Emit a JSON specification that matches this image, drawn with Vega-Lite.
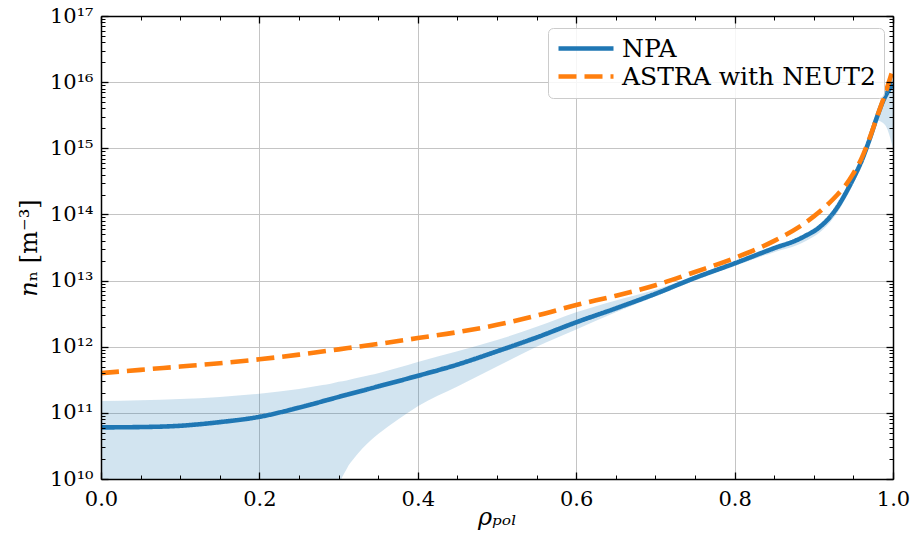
{
  "$schema": "https://vega.github.io/schema/vega-lite/v6.json",
  "width": 792,
  "height": 463,
  "autosize": "none",
  "padding": {"left": 101, "top": 16, "right": 21, "bottom": 66},
  "background": "white",
  "config": {"view": {"stroke": null}},
  "datasets": {
    "lines": [
      {"x": 0, "series": "NPA", "n": 6.03e10},
      {"x": 0.05, "series": "NPA", "n": 6.10e10},
      {"x": 0.1, "series": "NPA", "n": 6.38e10},
      {"x": 0.15, "series": "NPA", "n": 7.24e10},
      {"x": 0.2, "series": "NPA", "n": 8.71e10},
      {"x": 0.25, "series": "NPA", "n": 1.20e11},
      {"x": 0.3, "series": "NPA", "n": 1.74e11},
      {"x": 0.35, "series": "NPA", "n": 2.51e11},
      {"x": 0.4, "series": "NPA", "n": 3.63e11},
      {"x": 0.45, "series": "NPA", "n": 5.37e11},
      {"x": 0.5, "series": "NPA", "n": 8.51e11},
      {"x": 0.55, "series": "NPA", "n": 1.38e12},
      {"x": 0.6, "series": "NPA", "n": 2.34e12},
      {"x": 0.65, "series": "NPA", "n": 3.80e12},
      {"x": 0.7, "series": "NPA", "n": 6.31e12},
      {"x": 0.75, "series": "NPA", "n": 1.10e13},
      {"x": 0.8, "series": "NPA", "n": 1.82e13},
      {"x": 0.85, "series": "NPA", "n": 3.09e13},
      {"x": 0.88, "series": "NPA", "n": 4.17e13},
      {"x": 0.89, "series": "NPA", "n": 4.79e13},
      {"x": 0.9, "series": "NPA", "n": 5.56e13},
      {"x": 0.91, "series": "NPA", "n": 6.84e13},
      {"x": 0.92, "series": "NPA", "n": 9.02e13},
      {"x": 0.93, "series": "NPA", "n": 1.30e14},
      {"x": 0.94, "series": "NPA", "n": 2.07e14},
      {"x": 0.95, "series": "NPA", "n": 3.51e14},
      {"x": 0.96, "series": "NPA", "n": 6.31e14},
      {"x": 0.97, "series": "NPA", "n": 1.32e15},
      {"x": 0.98, "series": "NPA", "n": 3.02e15},
      {"x": 0.99, "series": "NPA", "n": 6.03e15},
      {"x": 1.0, "series": "NPA", "n": 9.33e15},
      {"x": 0, "series": "ASTRA with NEUT2", "n": 3.98e11},
      {"x": 0.05, "series": "ASTRA with NEUT2", "n": 4.47e11},
      {"x": 0.1, "series": "ASTRA with NEUT2", "n": 5.01e11},
      {"x": 0.15, "series": "ASTRA with NEUT2", "n": 5.62e11},
      {"x": 0.2, "series": "ASTRA with NEUT2", "n": 6.46e11},
      {"x": 0.25, "series": "ASTRA with NEUT2", "n": 7.59e11},
      {"x": 0.3, "series": "ASTRA with NEUT2", "n": 9.12e11},
      {"x": 0.35, "series": "ASTRA with NEUT2", "n": 1.10e12},
      {"x": 0.4, "series": "ASTRA with NEUT2", "n": 1.35e12},
      {"x": 0.45, "series": "ASTRA with NEUT2", "n": 1.66e12},
      {"x": 0.5, "series": "ASTRA with NEUT2", "n": 2.14e12},
      {"x": 0.55, "series": "ASTRA with NEUT2", "n": 2.95e12},
      {"x": 0.6, "series": "ASTRA with NEUT2", "n": 4.27e12},
      {"x": 0.65, "series": "ASTRA with NEUT2", "n": 5.89e12},
      {"x": 0.7, "series": "ASTRA with NEUT2", "n": 8.51e12},
      {"x": 0.75, "series": "ASTRA with NEUT2", "n": 1.35e13},
      {"x": 0.8, "series": "ASTRA with NEUT2", "n": 2.19e13},
      {"x": 0.85, "series": "ASTRA with NEUT2", "n": 3.98e13},
      {"x": 0.88, "series": "ASTRA with NEUT2", "n": 6.31e13},
      {"x": 0.9, "series": "ASTRA with NEUT2", "n": 9.33e13},
      {"x": 0.91, "series": "ASTRA with NEUT2", "n": 1.17e14},
      {"x": 0.92, "series": "ASTRA with NEUT2", "n": 1.51e14},
      {"x": 0.93, "series": "ASTRA with NEUT2", "n": 2.00e14},
      {"x": 0.94, "series": "ASTRA with NEUT2", "n": 2.75e14},
      {"x": 0.95, "series": "ASTRA with NEUT2", "n": 4.17e14},
      {"x": 0.96, "series": "ASTRA with NEUT2", "n": 6.92e14},
      {"x": 0.97, "series": "ASTRA with NEUT2", "n": 1.38e15},
      {"x": 0.98, "series": "ASTRA with NEUT2", "n": 3.02e15},
      {"x": 0.99, "series": "ASTRA with NEUT2", "n": 6.61e15},
      {"x": 1.0, "series": "ASTRA with NEUT2", "n": 1.58e16}
    ],
    "band": [
      {"x": 0, "lo": 1e8, "hi": 1.51e11},
      {"x": 0.05, "lo": 1e8, "hi": 1.55e11},
      {"x": 0.1, "lo": 1e8, "hi": 1.62e11},
      {"x": 0.15, "lo": 1e8, "hi": 1.74e11},
      {"x": 0.2, "lo": 1e8, "hi": 1.95e11},
      {"x": 0.25, "lo": 1e8, "hi": 2.29e11},
      {"x": 0.28, "lo": 1e8, "hi": 2.63e11},
      {"x": 0.29, "lo": 1e9, "hi": 2.75e11},
      {"x": 0.3, "lo": 7.08e9, "hi": 2.95e11},
      {"x": 0.31, "lo": 1.41e10, "hi": 3.09e11},
      {"x": 0.32, "lo": 2.09e10, "hi": 3.31e11},
      {"x": 0.34, "lo": 3.80e10, "hi": 3.72e11},
      {"x": 0.35, "lo": 4.79e10, "hi": 3.98e11},
      {"x": 0.375, "lo": 7.94e10, "hi": 4.79e11},
      {"x": 0.4, "lo": 1.26e11, "hi": 5.89e11},
      {"x": 0.45, "lo": 2.51e11, "hi": 8.51e11},
      {"x": 0.5, "lo": 5.01e11, "hi": 1.26e12},
      {"x": 0.55, "lo": 1.0e12, "hi": 2.0e12},
      {"x": 0.6, "lo": 1.82e12, "hi": 3.31e12},
      {"x": 0.65, "lo": 3.31e12, "hi": 5.01e12},
      {"x": 0.7, "lo": 5.75e12, "hi": 7.24e12},
      {"x": 0.75, "lo": 1.0e13, "hi": 1.17e13},
      {"x": 0.8, "lo": 1.66e13, "hi": 1.95e13},
      {"x": 0.85, "lo": 2.69e13, "hi": 3.24e13},
      {"x": 0.88, "lo": 3.47e13, "hi": 4.47e13},
      {"x": 0.89, "lo": 3.98e13, "hi": 5.13e13},
      {"x": 0.9, "lo": 4.62e13, "hi": 5.96e13},
      {"x": 0.91, "lo": 5.69e13, "hi": 7.33e13},
      {"x": 0.92, "lo": 7.50e13, "hi": 9.66e13},
      {"x": 0.93, "lo": 1.08e14, "hi": 1.39e14},
      {"x": 0.94, "lo": 1.72e14, "hi": 2.22e14},
      {"x": 0.95, "lo": 2.92e14, "hi": 3.76e14},
      {"x": 0.96, "lo": 5.37e14, "hi": 6.76e14},
      {"x": 0.97, "lo": 1.15e15, "hi": 1.41e15},
      {"x": 0.98, "lo": 2.63e15, "hi": 3.31e15},
      {"x": 0.99, "lo": 2.24e15, "hi": 7.08e15},
      {"x": 1.0, "lo": 1.0e15, "hi": 1.12e16}
    ]
  },
  "layer": [
    {
      "data": {"name": "band"},
      "mark": {"type": "area", "color": "#1f77b4", "opacity": 0.2, "interpolate": "monotone", "clip": true},
      "encoding": {
        "x": {"field": "x", "type": "quantitative", "scale": {"domain": [0, 1], "nice": false, "zero": false},
          "axis": {"orient": "bottom", "values": [0, 0.2, 0.4, 0.6, 0.8, 1.0], "format": ".1f", "grid": true, "gridColor": "#c4c4c4", "gridWidth": 1, "ticks": false, "domain": false, "labelFont": "DejaVu Serif", "labelFontSize": 21, "labelColor": "black", "labelPadding": 9, "labelFlush": false, "title": "ρₚₒₗ", "titleFont": "DejaVu Serif", "titleFontStyle": "italic", "titleFontSize": 24, "titleFontWeight": "normal", "titleColor": "black", "titlePadding": -4}},
        "y": {"field": "hi", "type": "quantitative", "scale": {"type": "log", "domain": [1e10, 1e17], "nice": false},
          "axis": {"orient": "left", "values": [1e10, 1e11, 1e12, 1e13, 1e14, 1e15, 1e16, 1e17], "labelExpr": "'10' + ['⁰','¹','²','³','⁴','⁵','⁶','⁷','⁸','⁹'][floor(round(log(datum.value)/LN10)/10)] + ['⁰','¹','²','³','⁴','⁵','⁶','⁷','⁸','⁹'][round(log(datum.value)/LN10)%10]", "grid": true, "gridColor": "#c4c4c4", "gridWidth": 1, "ticks": false, "domain": false, "labelFont": "DejaVu Serif", "labelFontSize": 21, "labelColor": "black", "labelPadding": 8, "labelFlush": false, "title": "𝑛ₙ [m⁻³]", "titleFont": "DejaVu Serif", "titleFontSize": 24, "titleFontWeight": "normal", "titleColor": "black", "titlePadding": 8}},
        "y2": {"field": "lo"}
      }
    },
    {
      "data": {"name": "lines"},
      "mark": {"type": "line", "strokeWidth": 4.6, "interpolate": "monotone", "clip": true},
      "encoding": {
        "x": {"field": "x", "type": "quantitative", "scale": {"domain": [0, 1], "nice": false, "zero": false},
          "axis": {"orient": "bottom", "values": [0, 0.2, 0.4, 0.6, 0.8, 1.0], "labels": false, "grid": false, "ticks": true, "tickSize": -7, "tickWidth": 1.3, "tickColor": "black", "domain": true, "domainColor": "black", "domainWidth": 1.5, "title": null, "zindex": 2}},
        "y": {"field": "n", "type": "quantitative", "scale": {"type": "log", "domain": [1e10, 1e17], "nice": false},
          "axis": {"orient": "left", "values": [1e10, 1e11, 1e12, 1e13, 1e14, 1e15, 1e16, 1e17], "labels": false, "grid": false, "ticks": true, "tickSize": -7, "tickWidth": 1.3, "tickColor": "black", "domain": true, "domainColor": "black", "domainWidth": 1.5, "title": null, "zindex": 2}},
        "color": {"field": "series", "type": "nominal", "sort": ["NPA", "ASTRA with NEUT2"],
          "scale": {"domain": ["NPA", "ASTRA with NEUT2"], "range": ["#1f77b4", "#ff7f0e"]},
          "legend": {"title": null, "orient": "none", "legendX": 447, "legendY": 12, "padding": 8, "strokeColor": "#cccccc", "fillColor": "rgba(255,255,255,0.85)", "cornerRadius": 5, "symbolType": "M-1,0L4.5,0", "symbolSize": 400, "symbolStrokeWidth": 4.6, "labelFont": "DejaVu Serif", "labelFontSize": 25, "labelColor": "black", "labelOffset": 41, "rowPadding": 2, "labelLimit": 400}},
        "strokeDash": {"field": "series", "type": "nominal", "sort": ["NPA", "ASTRA with NEUT2"],
          "scale": {"domain": ["NPA", "ASTRA with NEUT2"], "range": [[1, 0], [18, 8]]},
          "legend": {"title": null, "orient": "none", "legendX": 447, "legendY": 12, "padding": 8, "strokeColor": "#cccccc", "fillColor": "rgba(255,255,255,0.85)", "cornerRadius": 5, "symbolType": "M-1,0L4.5,0", "symbolSize": 400, "symbolStrokeWidth": 4.6, "labelFont": "DejaVu Serif", "labelFontSize": 25, "labelColor": "black", "labelOffset": 41, "rowPadding": 2, "labelLimit": 400}}
      }
    },
    {
      "data": {"name": "band"},
      "mark": {"type": "line", "opacity": 0},
      "encoding": {
        "x": {"field": "x", "type": "quantitative", "scale": {"domain": [0, 1], "nice": false, "zero": false},
          "axis": {"orient": "bottom", "values": [0.05, 0.1, 0.15, 0.25, 0.3, 0.35, 0.45, 0.5, 0.55, 0.65, 0.7, 0.75, 0.85, 0.9, 0.95], "labels": false, "grid": false, "ticks": true, "tickSize": -4, "tickWidth": 1, "tickColor": "black", "domain": false, "title": null, "zindex": 2}},
        "y": {"field": "hi", "type": "quantitative", "scale": {"type": "log", "domain": [1e10, 1e17], "nice": false},
          "axis": {"orient": "left", "values": [2e10, 3e10, 4e10, 5e10, 6e10, 7e10, 8e10, 9e10, 2e11, 3e11, 4e11, 5e11, 6e11, 7e11, 8e11, 9e11, 2e12, 3e12, 4e12, 5e12, 6e12, 7e12, 8e12, 9e12, 2e13, 3e13, 4e13, 5e13, 6e13, 7e13, 8e13, 9e13, 2e14, 3e14, 4e14, 5e14, 6e14, 7e14, 8e14, 9e14, 2e15, 3e15, 4e15, 5e15, 6e15, 7e15, 8e15, 9e15, 2e16, 3e16, 4e16, 5e16, 6e16, 7e16, 8e16, 9e16], "labels": false, "grid": false, "ticks": true, "tickSize": -4, "tickWidth": 1, "tickColor": "black", "domain": false, "title": null, "zindex": 2}}
      }
    },
    {
      "data": {"name": "band"},
      "mark": {"type": "line", "opacity": 0},
      "encoding": {
        "x": {"field": "x", "type": "quantitative", "scale": {"domain": [0, 1], "nice": false, "zero": false},
          "axis": {"orient": "top", "values": [0, 0.2, 0.4, 0.6, 0.8, 1.0], "labels": false, "grid": false, "ticks": true, "tickSize": -7, "tickWidth": 1.3, "tickColor": "black", "domain": true, "domainColor": "black", "domainWidth": 1.5, "title": null, "zindex": 2}},
        "y": {"field": "hi", "type": "quantitative", "scale": {"type": "log", "domain": [1e10, 1e17], "nice": false},
          "axis": {"orient": "right", "values": [1e10, 1e11, 1e12, 1e13, 1e14, 1e15, 1e16, 1e17], "labels": false, "grid": false, "ticks": true, "tickSize": -7, "tickWidth": 1.3, "tickColor": "black", "domain": true, "domainColor": "black", "domainWidth": 1.5, "title": null, "zindex": 2}}
      }
    },
    {
      "data": {"name": "band"},
      "mark": {"type": "line", "opacity": 0},
      "encoding": {
        "x": {"field": "x", "type": "quantitative", "scale": {"domain": [0, 1], "nice": false, "zero": false},
          "axis": {"orient": "top", "values": [0.05, 0.1, 0.15, 0.25, 0.3, 0.35, 0.45, 0.5, 0.55, 0.65, 0.7, 0.75, 0.85, 0.9, 0.95], "labels": false, "grid": false, "ticks": true, "tickSize": -4, "tickWidth": 1, "tickColor": "black", "domain": false, "title": null, "zindex": 2}},
        "y": {"field": "hi", "type": "quantitative", "scale": {"type": "log", "domain": [1e10, 1e17], "nice": false},
          "axis": {"orient": "right", "values": [2e10, 3e10, 4e10, 5e10, 6e10, 7e10, 8e10, 9e10, 2e11, 3e11, 4e11, 5e11, 6e11, 7e11, 8e11, 9e11, 2e12, 3e12, 4e12, 5e12, 6e12, 7e12, 8e12, 9e12, 2e13, 3e13, 4e13, 5e13, 6e13, 7e13, 8e13, 9e13, 2e14, 3e14, 4e14, 5e14, 6e14, 7e14, 8e14, 9e14, 2e15, 3e15, 4e15, 5e15, 6e15, 7e15, 8e15, 9e15, 2e16, 3e16, 4e16, 5e16, 6e16, 7e16, 8e16, 9e16], "labels": false, "grid": false, "ticks": true, "tickSize": -4, "tickWidth": 1, "tickColor": "black", "domain": false, "title": null, "zindex": 2}}
      }
    }
  ],
  "resolve": {"axis": {"x": "independent", "y": "independent"}}
}
